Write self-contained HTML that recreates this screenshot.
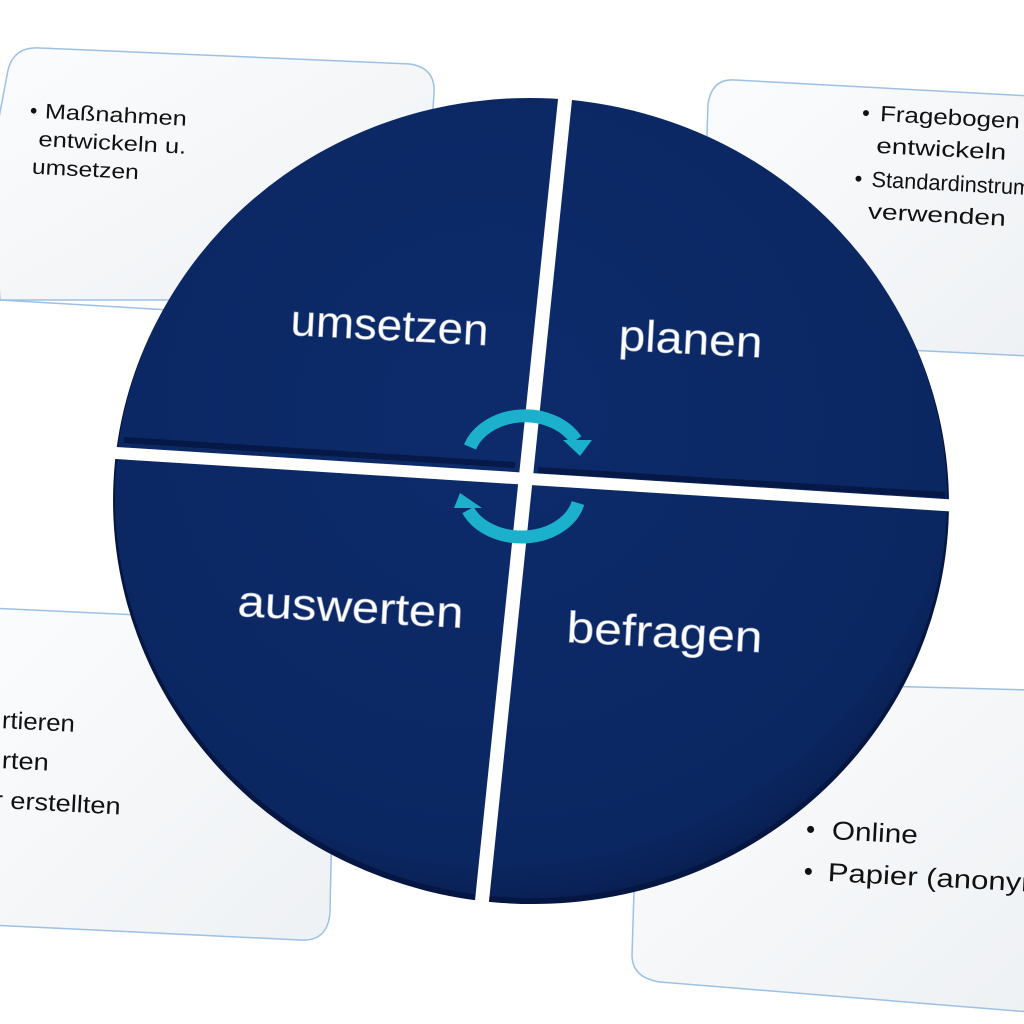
<!DOCTYPE html>
<html><head><meta charset="utf-8"><style>
html,body{margin:0;padding:0;background:#fff;}
svg{display:block}
text{font-family:"Liberation Sans","DejaVu Sans",sans-serif;}
</style></head><body>
<svg width="1024" height="1024" viewBox="0 0 1024 1024" xmlns="http://www.w3.org/2000/svg">
<defs>
<linearGradient id="cg" x1="0" y1="0" x2="1" y2="1">
<stop offset="0" stop-color="#fbfcfd"/><stop offset="1" stop-color="#eef1f4"/>
</linearGradient>
<radialGradient id="bg" cx="0.45" cy="0.4" r="0.65">
<stop offset="0" stop-color="#0d2b6b"/><stop offset="0.85" stop-color="#0b2762"/><stop offset="1" stop-color="#071b4a"/>
</radialGradient>
</defs>
<path d="M-10,165 L8,70 Q14,46 40,48 L410,64 Q436,68 434,94 L420,300 L0,300 Z" fill="url(#cg)" stroke="#9dc0e4" stroke-width="1.5"/>
<path d="M0,300 L170,310" stroke="#9dc0e4" stroke-width="1.5"/>
<path d="M735,80 L1030,96 L1030,356 L700,340 L708,104 Q712,78 735,80 Z" fill="url(#cg)" stroke="#9dc0e4" stroke-width="1.5"/>
<path d="M-10,608 L160,616 L336,628 L330,912 Q328,942 300,940 L-10,925 Z" fill="url(#cg)" stroke="#9dc0e4" stroke-width="1.5"/>
<path d="M650,680 L1030,690 L1030,1012 L660,982 Q632,978 632,955 L640,700 Z" fill="url(#cg)" stroke="#9dc0e4" stroke-width="1.5"/>
<g transform="rotate(3 40 110)" font-size="21" fill="#111">
<text x="30" y="118">•</text><text x="45" y="118" textLength="142" lengthAdjust="spacingAndGlyphs">Maßnahmen</text>
<text x="40" y="146" textLength="148" lengthAdjust="spacingAndGlyphs">entwickeln u.</text>
<text x="35" y="174" textLength="107" lengthAdjust="spacingAndGlyphs">umsetzen</text>
</g>
<g transform="rotate(3 860 115)" font-size="22" fill="#111">
<text x="862" y="120">•</text><text x="880" y="120" textLength="140" lengthAdjust="spacingAndGlyphs">Fragebogen</text>
<text x="878" y="152" textLength="130" lengthAdjust="spacingAndGlyphs">entwickeln</text>
<text x="858" y="186">•</text><text x="875" y="186" textLength="190" lengthAdjust="spacingAndGlyphs">Standardinstrument</text>
<text x="873" y="218" textLength="138" lengthAdjust="spacingAndGlyphs">verwenden</text>
</g>
<g transform="rotate(3 0 720)" font-size="24" fill="#111">
<text x="2" y="728" textLength="73" lengthAdjust="spacingAndGlyphs">rtieren</text>
<text x="4" y="768" textLength="47" lengthAdjust="spacingAndGlyphs">rten</text>
<text x="-2" y="808" textLength="127" lengthAdjust="spacingAndGlyphs">r erstellten</text>
</g>
<g transform="rotate(3 810 830)" font-size="26" fill="#111">
<text x="806" y="838">•</text><text x="832" y="838" textLength="86" lengthAdjust="spacingAndGlyphs">Online</text>
<text x="806" y="880">•</text><text x="830" y="880" textLength="230" lengthAdjust="spacingAndGlyphs">Papier (anonym)</text>
</g>
<ellipse cx="531" cy="502" rx="418" ry="402" fill="#061643" transform="rotate(3 531 502)"/>
<ellipse cx="531" cy="498" rx="416" ry="400" fill="url(#bg)" transform="rotate(3 531 498)"/>
<path d="M566,90 L480,920" stroke="#fff" stroke-width="14"/>
<path d="M100,452 L960,506" stroke="#fff" stroke-width="12"/>
<path d="M124,440 L515,465" stroke="#04123a" stroke-width="6" opacity="0.7"/>
<path d="M538,470 L945,495" stroke="#04123a" stroke-width="6" opacity="0.7"/>
<g fill="#fff" stroke="#9aa7c4" stroke-width="0.6" font-size="44">
<text x="290" y="335" transform="rotate(3 290 335)" textLength="198" lengthAdjust="spacingAndGlyphs">umsetzen</text>
<text x="618" y="350" transform="rotate(3 618 350)" textLength="144" lengthAdjust="spacingAndGlyphs">planen</text>
<text x="237" y="616" transform="rotate(3 237 616)" textLength="226" lengthAdjust="spacingAndGlyphs">auswerten</text>
<text x="566" y="642" transform="rotate(3 566 642)" textLength="196" lengthAdjust="spacingAndGlyphs">befragen</text>
</g>
<g fill="none" stroke="#1bb0cc" stroke-width="13">
<path d="M470,447 A58,46 0 0 1 576,440"/>
<path d="M578,503 A58,44 0 0 1 468,510"/>
</g>
<polygon points="563,440 592,440 580,456" fill="#1bb0cc"/>
<polygon points="454,508 482,508 460,493" fill="#1bb0cc"/>
</svg>
</body></html>
